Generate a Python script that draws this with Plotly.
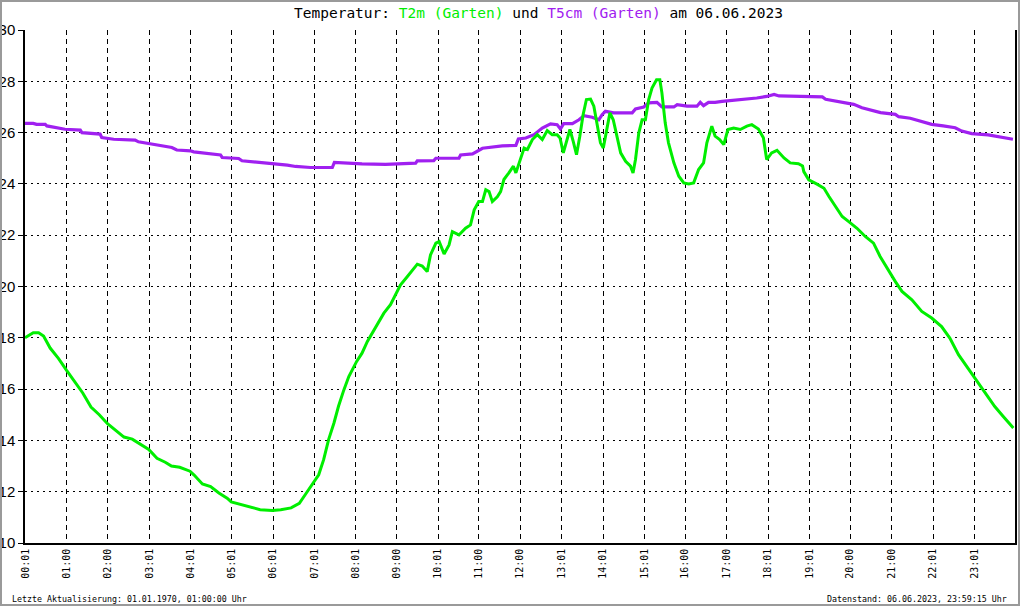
import plotly.graph_objects as go

# ---------------- data ----------------
t2m_hours = [0.0, 0.1, 0.2, 0.33, 0.45, 0.61, 0.81, 1.0, 1.2, 1.4, 1.6, 1.8, 2.0, 2.2, 2.4, 2.6, 2.8,
             3.0, 3.2, 3.4, 3.55, 3.75, 4.0, 4.1, 4.3, 4.5, 4.7, 4.9, 5.0, 5.25, 5.5, 5.7, 6.0, 6.2,
             6.45, 6.65, 6.8, 6.9, 7.0, 7.12, 7.24, 7.36, 7.49, 7.6, 7.73, 7.85, 8.04, 8.17, 8.3,
             8.42, 8.58, 8.7, 8.86, 8.98, 9.1, 9.27, 9.39, 9.51, 9.63, 9.75, 9.83, 9.96, 10.04,
             10.16, 10.28, 10.36, 10.52, 10.68, 10.8, 10.89, 11.0, 11.09, 11.17, 11.25, 11.33,
             11.45, 11.53, 11.61, 11.73, 11.84, 11.9, 12.0, 12.1, 12.18, 12.3, 12.42, 12.54,
             12.66, 12.78, 12.9, 12.97, 13.05, 13.13, 13.21, 13.29, 13.37, 13.45, 13.53, 13.61,
             13.71, 13.79, 13.87, 13.95, 14.02, 14.1, 14.18, 14.26, 14.35, 14.44, 14.56, 14.68,
             14.74, 14.8, 14.88, 14.96, 15.04, 15.12, 15.2, 15.31, 15.39, 15.44, 15.52, 15.6,
             15.73, 15.85, 15.97, 16.09, 16.21, 16.33, 16.45, 16.53, 16.65, 16.73, 16.84, 16.94,
             17.04, 17.18, 17.34, 17.5, 17.62, 17.78, 17.9, 17.98, 18.1, 18.23, 18.4, 18.55,
             18.75, 18.85, 18.88, 19.0, 19.2, 19.37, 19.49, 19.69, 19.81, 19.97, 20.17, 20.37,
             20.57, 20.73, 20.94, 21.1, 21.26, 21.5, 21.74, 21.98, 22.22, 22.42, 22.63, 22.83,
             22.95, 23.11, 23.31, 23.51, 23.71, 23.91, 23.96]
t2m_values = [18.0, 18.1, 18.2, 18.2, 18.07, 17.6, 17.2, 16.75, 16.3, 15.85, 15.3, 15.0, 14.65, 14.4,
              14.13, 14.05, 13.85, 13.65, 13.3, 13.15, 13.0, 12.95, 12.8, 12.65, 12.3, 12.2, 11.95,
              11.75, 11.6, 11.5, 11.4, 11.3, 11.27, 11.3, 11.37, 11.55, 11.9, 12.15, 12.35, 12.66,
              13.25, 14.03, 14.68, 15.33, 15.97, 16.49, 17.08, 17.4, 17.86, 18.18, 18.6, 18.96,
              19.29, 19.68, 20.06, 20.39, 20.65, 20.87, 20.8, 20.58, 21.23, 21.69, 21.75, 21.27,
              21.62, 22.14, 22.01, 22.27, 22.4, 22.99, 23.31, 23.31, 23.77, 23.7, 23.31, 23.5,
              23.7, 24.17, 24.43, 24.69, 24.43, 24.95, 25.4, 25.34, 25.73, 25.92, 25.73, 26.08,
              25.92, 25.92, 25.79, 25.21, 25.66, 26.12, 25.66, 25.14, 25.86, 26.7, 27.29, 27.31,
              27.03, 26.25, 25.6, 25.4, 26.12, 26.77, 26.5, 25.86, 25.21, 24.88, 24.69, 24.43,
              24.95, 25.99, 26.5, 26.5, 27.29, 27.74, 28.06, 28.06, 27.55, 26.38, 25.6, 24.82,
              24.3, 24.04, 24.0, 24.04, 24.56, 24.82, 25.6, 26.25, 25.86, 25.73, 25.53, 26.12,
              26.18, 26.12, 26.25, 26.31, 26.14, 25.8, 24.95, 25.21, 25.31, 25.01, 24.82, 24.79,
              24.7, 24.48, 24.16, 23.99, 23.83, 23.51, 23.05, 22.73, 22.53, 22.27, 21.95, 21.69,
              21.17, 20.58, 20.19, 19.81, 19.48, 19.03, 18.77, 18.44, 17.99, 17.34, 16.88, 16.56,
              16.23, 15.78, 15.32, 14.94, 14.57, 14.48]

t5cm_hours = [0.0, 0.2, 0.28, 0.49, 0.53, 0.81, 0.97, 1.34, 1.38, 1.82, 1.86, 2.15, 2.67, 2.75, 3.0,
              3.24, 3.56, 3.68, 4.01, 4.09, 4.37, 4.74, 4.78, 5.18, 5.26, 5.55, 5.99, 6.36, 6.56,
              6.92, 7.45, 7.5, 8.17, 8.74, 9.47, 9.51, 9.91, 9.96, 10.52, 10.56, 10.85, 11.0,
              11.09, 11.57, 11.9, 11.96, 12.14, 12.34, 12.54, 12.74, 12.9, 12.98, 13.06, 13.27,
              13.43, 13.55, 13.75, 13.91, 13.99, 14.07, 14.27, 14.72, 14.8, 15.0, 15.12, 15.32,
              15.44, 15.73, 15.81, 16.05, 16.29, 16.37, 16.45, 16.57, 16.73, 16.9, 17.18, 17.5,
              17.74, 17.98, 18.16, 18.28, 18.88, 19.33, 19.41, 19.69, 20.09, 20.29, 20.57, 20.74,
              21.1, 21.18, 21.46, 21.74, 21.98, 22.26, 22.55, 22.71, 22.95, 23.35, 23.59, 23.95]
t5cm_values = [26.36, 26.36, 26.32, 26.32, 26.26, 26.19, 26.13, 26.1, 26.0, 25.94, 25.81, 25.74,
               25.71, 25.64, 25.57, 25.48, 25.42, 25.32, 25.29, 25.25, 25.19, 25.13, 25.03, 24.99,
               24.9, 24.86, 24.81, 24.73, 24.68, 24.64, 24.64, 24.84, 24.78, 24.76, 24.81, 24.9,
               24.91, 25.0, 25.0, 25.13, 25.17, 25.3, 25.39, 25.48, 25.5, 25.75, 25.79, 25.92,
               26.18, 26.34, 26.31, 26.14, 26.35, 26.35, 26.5, 26.66, 26.6, 26.5, 26.7, 26.83,
               26.77, 26.77, 26.92, 27.0, 27.16, 27.18, 27.0, 27.0, 27.09, 27.03, 27.03, 27.18,
               27.05, 27.18, 27.18, 27.22, 27.26, 27.29, 27.35, 27.41, 27.49, 27.43, 27.39, 27.39,
               27.3, 27.21, 27.1, 26.97, 26.87, 26.78, 26.71, 26.62, 26.56, 26.43, 26.32, 26.26,
               26.19, 26.06, 25.96, 25.91, 25.83, 25.74]

tick_hours = [1/60, 1, 2, 3 + 1/60, 4 + 1/60, 5 + 1/60, 6 + 1/60, 7 + 1/60, 8 + 1/60, 9, 10 + 1/60,
              11, 12, 13 + 1/60, 14 + 1/60, 15 + 1/60, 16, 17, 18 + 1/60, 19 + 1/60, 20, 21,
              22 + 1/60, 23 + 1/60]
tick_labels = ["00:01", "01:00", "02:00", "03:01", "04:01", "05:01", "06:01", "07:01", "08:01",
               "09:00", "10:01", "11:00", "12:00", "13:01", "14:01", "15:01", "16:00", "17:00",
               "18:01", "19:01", "20:00", "21:00", "22:01", "23:01"]

title_text = ("Temperatur: <span style='color:#00ee00'>T2m (Garten)</span> und "
              "<span style='color:#a020f0'>T5cm (Garten)</span> am 06.06.2023")
footer_left = "Letzte Aktualisierung: 01.01.1970, 01:00:00 Uhr"
footer_right = "Datenstand: 06.06.2023, 23:59:15 Uhr"

GREEN = "#00ee00"
PURPLE = "#a020f0"

# ---------------- figure ----------------
W, H = 1020, 606
L, R, T, B = 25, 5, 30, 63
PW, PH = W - L - R, H - T - B


def px_x(px):
    return (px - L) / PW


def px_y(py):
    return (H - B - py) / PH


fig = go.Figure()
fig.add_trace(go.Scatter(x=t5cm_hours, y=t5cm_values, mode="lines",
                         line=dict(color=PURPLE, width=3.2), name="T5cm", hoverinfo="skip"))
fig.add_trace(go.Scatter(x=t2m_hours, y=t2m_values, mode="lines",
                         line=dict(color=GREEN, width=3), name="T2m", hoverinfo="skip"))

mono = "DejaVu Sans Mono"

fig.update_layout(
    width=W, height=H,
    margin=dict(l=L, r=R, t=T, b=B, pad=0, autoexpand=False),
    paper_bgcolor="white", plot_bgcolor="white",
    showlegend=False,
    xaxis=dict(
        range=[0, 24], tickmode="array", tickvals=tick_hours, ticktext=tick_labels,
        tickangle=-90, tickfont=dict(family=mono, size=10, color="black"),
        showgrid=True, gridcolor="black", gridwidth=1, griddash="5px,4px",
        showline=True, linecolor="black", linewidth=1.5, ticks="", zeroline=False,
        automargin=False, fixedrange=True,
    ),
    yaxis=dict(
        range=[10, 30], tickmode="linear", tick0=10, dtick=2,
        tickfont=dict(family="Liberation Sans", size=15, color="black"),
        showgrid=True, gridcolor="black", gridwidth=1, griddash="2px,4px",
        showline=True, linecolor="black", linewidth=1.5, mirror=True,
        ticks="outside", ticklen=5, tickcolor="black", tickwidth=1, zeroline=False,
        automargin=False, fixedrange=True,
    ),
)

fig.add_annotation(x=px_x(538.5), y=px_y(13), xref="paper", yref="paper",
                   text=title_text, showarrow=False, xanchor="center", yanchor="middle",
                   font=dict(family=mono, size=14.5, color="black"))
fig.add_annotation(x=px_x(10), y=px_y(599), xref="paper", yref="paper",
                   text=footer_left, showarrow=False, xanchor="left", yanchor="middle",
                   font=dict(family=mono, size=8.3, color="black"))
fig.add_annotation(x=px_x(1009), y=px_y(599), xref="paper", yref="paper",
                   text=footer_right, showarrow=False, xanchor="right", yanchor="middle",
                   font=dict(family=mono, size=8.3, color="black"))

# grey outer frame
fig.add_shape(type="rect", xref="paper", yref="paper",
              x0=px_x(1), x1=px_x(W - 1), y0=px_y(H - 1), y1=px_y(1),
              line=dict(color="#9a9a9a", width=2), fillcolor="rgba(0,0,0,0)", layer="above")

fig.write_html(
    "out.html",
    config={"displayModeBar": False},
    post_script="document.body.style.margin='0';document.body.style.overflow='hidden';",
)
